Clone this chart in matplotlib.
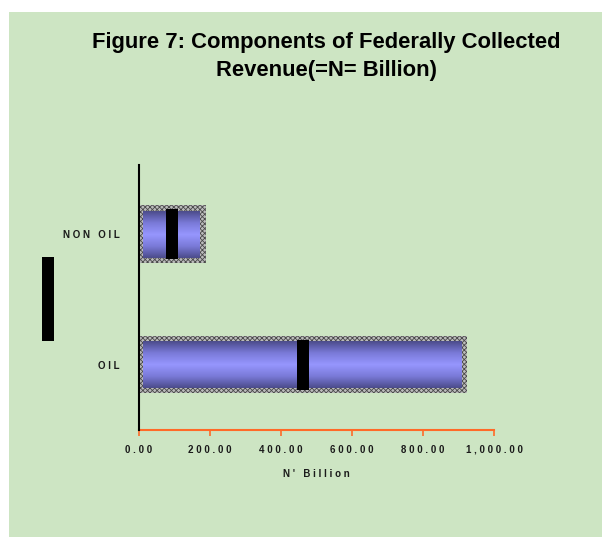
import numpy as np
import matplotlib.pyplot as plt
from matplotlib.patches import Rectangle
from matplotlib.colors import LinearSegmentedColormap
from matplotlib.ticker import FuncFormatter

# data (N' Billion)
categories = ["OIL", "NON OIL"]
values = [925.0, 188.0]
x_ticks = [0, 200, 400, 600, 800, 1000]

plt.rcParams["font.family"] = ["Liberation Sans", "DejaVu Sans"]
plt.rcParams["hatch.linewidth"] = 0.6

W, H = 602, 537
fig = plt.figure(figsize=(W / 100, H / 100), dpi=100, facecolor="white")

# green panel behind everything
fig.patches.append(Rectangle((9 / W, 0), 1 - 9 / W, 1 - 12 / H,
                             transform=fig.transFigure, facecolor="#cde5c3",
                             edgecolor="none", zorder=-10))

# stray legend key on the left
fig.patches.append(Rectangle((42 / W, 1 - 341 / H), 12 / W, 84 / H,
                             transform=fig.transFigure, facecolor="black",
                             edgecolor="none", zorder=5))

ax = fig.add_axes([139 / W, 1 - 430 / H, 355 / W, 265 / H])
ax.patch.set_alpha(0)

ypos = np.arange(len(categories))
outer_h = 0.44
inner_h = 0.36

grad = LinearSegmentedColormap.from_list(
    "cyl", ["#4c4c8c", "#7a7ad8", "#9696fe", "#7a7ad8", "#4c4c8c"])
g = np.linspace(0, 1, 100).reshape(-1, 1)

for y, v in zip(ypos, values):
    # checkered frame
    ax.barh(y, v, height=outer_h, color="#bcbcbc", hatch="xxxxxxx",
            edgecolor="#4a4a4a", linewidth=0, zorder=2)
    # shaded cylinder body
    ax.imshow(g, cmap=grad, aspect="auto", interpolation="bilinear",
              extent=[11, v - 17, y - inner_h / 2, y + inner_h / 2], zorder=3)
    # black marker at the middle of the bar
    ax.add_patch(Rectangle((v / 2 - 17, y - inner_h / 2 - 0.01), 34,
                           inner_h + 0.02, facecolor="black", edgecolor="none",
                           zorder=4))

ax.set_xlim(0, 1000)
ax.set_ylim(-0.5, 1.53)

spaced = lambda s: " ".join(s)

ax.set_yticks(ypos)
ax.set_yticklabels([spaced(c) for c in categories], fontsize=7,
                   fontweight="bold", color="#1a1a1a")
ax.tick_params(axis="y", length=0, pad=14)

ax.set_xticks(x_ticks)
ax.xaxis.set_major_formatter(FuncFormatter(lambda x, p: spaced(f"{x:,.2f}")))
ax.tick_params(axis="x", length=4, width=1.2, color="#ff6a28", labelsize=7)
for lab in ax.get_xticklabels():
    lab.set_fontweight("bold")
    lab.set_color("#1a1a1a")
    lab.set_verticalalignment("baseline")
ax.xaxis.set_tick_params(pad=12.5)

ax.spines["top"].set_visible(False)
ax.spines["right"].set_visible(False)
ax.spines["bottom"].set_color("#ff6a28")
ax.spines["bottom"].set_linewidth(1.5)
ax.spines["left"].set_color("black")
ax.spines["left"].set_linewidth(1.5)
ax.spines["left"].set_zorder(6)

ax.set_xlabel(spaced("N' Billion"), fontsize=7, fontweight="bold",
              color="#1a1a1a", labelpad=10)

fig.text(326 / W, 1 - 42.5 / H, "Figure 7: Components of Federally Collected",
         ha="center", va="center", fontsize=15.8, fontweight="bold")
fig.text(326 / W, 1 - 70.5 / H, "Revenue(=N= Billion)",
         ha="center", va="center", fontsize=15.8, fontweight="bold")

fig.savefig("out.png", dpi=100, facecolor=fig.get_facecolor())
